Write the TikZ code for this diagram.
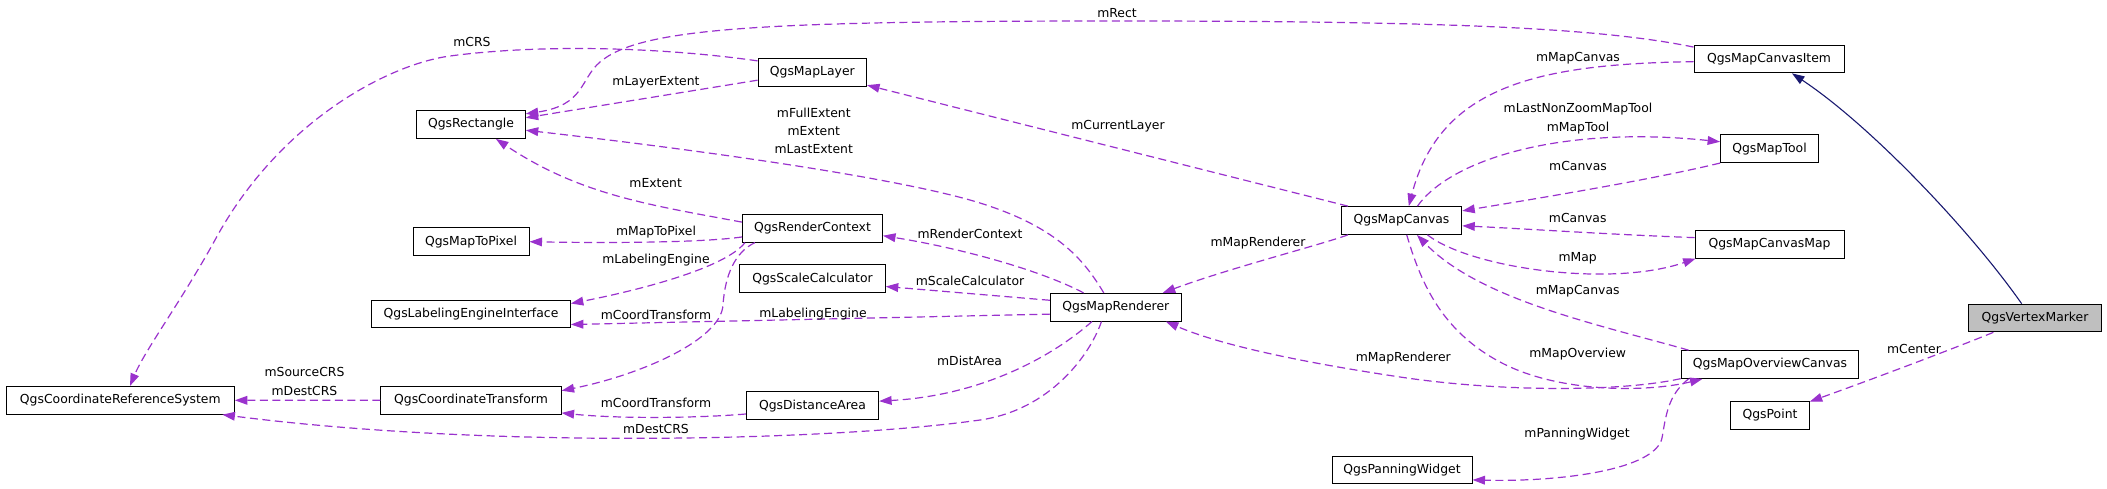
\documentclass[tikz,border=0pt]{standalone}
\usepackage{fontspec}
\setmainfont{DejaVu Sans}
\usetikzlibrary{arrows.meta}
\definecolor{relc}{HTML}{9A32CD}
\definecolor{inhc}{HTML}{191970}
\definecolor{grayfill}{HTML}{BFBFBF}
\begin{document}
\begin{tikzpicture}[x=1pt,y=-1pt,font=\fontsize{12.4}{14.9}\selectfont,
  cls/.style={draw=black,line width=1pt,minimum height=27.7pt,inner sep=0pt,anchor=center},
  relline/.style={draw=relc,line width=1.2pt,dash pattern=on 8pt off 4.5pt,-{Triangle[length=12.5pt,width=8.7pt]}},
  inhline/.style={draw=inhc,line width=1.1pt,-{Triangle[length=12.5pt,width=8.7pt]}},
  lbl/.style={anchor=base,inner sep=0pt}]
\useasboundingbox (0,0) rectangle (2107,488);
% classes
\node[cls,minimum width=108.5pt] (rect) at (471,124.5) {QgsRectangle};
\node[cls,minimum width=116pt] (mtp) at (471,241.7) {QgsMapToPixel};
\node[cls,minimum width=198.7pt] (lei) at (471,314) {QgsLabelingEngineInterface};
\node[cls,minimum width=228pt] (crs) at (120.3,400.3) {QgsCoordinateReferenceSystem};
\node[cls,minimum width=180.2pt] (ct) at (471,400.2) {QgsCoordinateTransform};
\node[cls,minimum width=108.5pt] (ml) at (812.3,72.5) {QgsMapLayer};
\node[cls,minimum width=140pt] (rc) at (812.5,228.3) {QgsRenderContext};
\node[cls,minimum width=145.5pt] (sc) at (812.5,278.8) {QgsScaleCalculator};
\node[cls,minimum width=132.2pt] (da) at (812.5,405.8) {QgsDistanceArea};
\node[cls,minimum width=131pt] (mr) at (1115.8,307.2) {QgsMapRenderer};
\node[cls,minimum width=120.5pt] (mc) at (1401.5,220.5) {QgsMapCanvas};
\node[cls,minimum width=140pt] (pw) at (1402,470) {QgsPanningWidget};
\node[cls,minimum width=150pt] (mci) at (1769,59) {QgsMapCanvasItem};
\node[cls,minimum width=97.8pt] (mt) at (1769.5,148.7) {QgsMapTool};
\node[cls,minimum width=149pt] (mcm) at (1769.5,244.2) {QgsMapCanvasMap};
\node[cls,minimum width=177.6pt] (moc) at (1770,364.5) {QgsMapOverviewCanvas};
\node[cls,minimum width=78.5pt] (pt) at (1770,415.3) {QgsPoint};
\node[cls,minimum width=132.5pt,fill=grayfill] (vm) at (2035,318) {QgsVertexMarker};
% relations
\draw[relline] (ml.168) .. controls (660,47) and (540,44) .. (450,56) .. controls (390,64) and (280,120) .. (215,240) .. controls (182,300) and (145,350) .. (crs.56.7);
\draw[relline] (mci.171) .. controls (1600,28) and (1450,21) .. (1117,21) .. controls (760,21) and (640,28) .. (600,62) .. controls (580,79) and (585,105) .. (rect.11);
\draw[relline] (ml.188) -- (rect.7);
\draw[relline] (mr.130) .. controls (1085,262) and (1060,228) .. (980,203) .. controls (900,178) and (700,150) .. (rect.354);
\draw[relline] (rc.175) .. controls (650,205) and (580,195) .. (rect.330.5);
\draw[relline] (rc.187) .. controls (700,243) and (600,243) .. (mtp.east);
\draw[relline] (rc.192.5) .. controls (725,268) and (640,290) .. (lei.6.6);
\draw[relline] (rc.194) .. controls (735,252) and (725,275) .. (723,305) .. controls (721,340) and (640,375) .. (ct.6);
\draw[relline] (ct.west) -- (crs.east);
\draw[relline] (da.187) .. controls (700,418) and (620,419) .. (ct.352.5);
\draw[relline] (mr.225) .. controls (1090,355) and (1050,410) .. (980,420) .. controls (840,440) and (500,450) .. (crs.352);
\draw[relline] (mr.211) .. controls (1060,350) and (990,395) .. (da.4);
\draw[relline] (mr.174) -- (sc.354.6);
\draw[relline] (mr.156.5) .. controls (1040,270) and (960,248) .. (rc.354.5);
\draw[relline] (mr.186) -- (lei.354);
\draw[relline] (mc.165.7) -- (ml.347);
\draw[relline] (mc.195) .. controls (1320,245) and (1230,268) .. (mr.17.5);
\draw[relline] (moc.189.4) .. controls (1620,392) and (1500,392) .. (1400,377) .. controls (1300,362) and (1220,345) .. (mr.344);
\draw[relline] (moc.170.4) .. controls (1600,325) and (1480,300) .. (mc.317.7);
\draw[relline] (mcm.175.5) .. controls (1600,234) and (1530,229) .. (mc.355.7);
\draw[relline] (mc.331.2) .. controls (1470,268) and (1610,288) .. (mcm.191.6);
\draw[relline] (mt.south west) .. controls (1650,180) and (1540,198) .. (mc.9.9);
\draw[relline] (mc.42.3) .. controls (1450,160) and (1560,125) .. (mt.172);
\draw[relline] (mci.182.5) .. controls (1540,64) and (1440,85) .. (mc.63.8);
\draw[inhline] (vm.133) .. controls (1970,230) and (1870,125) .. (mci.328.7);
\draw[relline] (vm.199) .. controls (1950,350) and (1870,380) .. (pt.19);
\draw[relline] (moc.190) .. controls (1668,395) and (1666,415) .. (1662,438) .. controls (1655,470) and (1560,482) .. (pw.352);
\draw[relline] (mc.290.6) .. controls (1420,280) and (1440,330) .. (1500,362) .. controls (1560,394) and (1650,392) .. (moc.192.6);
% labels
\node[lbl] (l1) at (1117,17.2) {mRect};
\node[lbl] (l2) at (472,46.5) {mCRS};
\node[lbl] (l3) at (656,85.2) {mLayerExtent};
\node[lbl] (l4a) at (813.8,117.8) {mFullExtent};
\node[lbl] (l4b) at (813.8,135.2) {mExtent};
\node[lbl] (l4c) at (813.8,153.2) {mLastExtent};
\node[lbl] (l5) at (655.7,187.2) {mExtent};
\node[lbl] (l6) at (656,235.2) {mMapToPixel};
\node[lbl] (l7) at (656,263.5) {mLabelingEngine};
\node[lbl] (l8) at (656,319.2) {mCoordTransform};
\node[lbl] (l9) at (656,407.2) {mCoordTransform};
\node[lbl] (l10) at (656,433.8) {mDestCRS};
\node[lbl] (l11a) at (304.5,376.8) {mSourceCRS};
\node[lbl] (l11b) at (304.5,395.2) {mDestCRS};
\node[lbl] (l12) at (1118,129.5) {mCurrentLayer};
\node[lbl] (l13) at (970,238.5) {mRenderContext};
\node[lbl] (l14) at (1258,246.8) {mMapRenderer};
\node[lbl] (l15) at (970,285.2) {mScaleCalculator};
\node[lbl] (l16) at (813,317.2) {mLabelingEngine};
\node[lbl] (l17) at (969.6,365.2) {mDistArea};
\node[lbl] (l18) at (1403.3,361.2) {mMapRenderer};
\node[lbl] (l19) at (1578,61.8) {mMapCanvas};
\node[lbl] (l20a) at (1578,112.8) {mLastNonZoomMapTool};
\node[lbl] (l20b) at (1578,131.2) {mMapTool};
\node[lbl] (l21) at (1578,170.5) {mCanvas};
\node[lbl] (l22) at (1577.7,222.8) {mCanvas};
\node[lbl] (l23) at (1577.7,261.8) {mMap};
\node[lbl] (l24) at (1577.7,294.5) {mMapCanvas};
\node[lbl] (l25) at (1577.7,357.8) {mMapOverview};
\node[lbl] (l26) at (1914,353.8) {mCenter};
\node[lbl] (l27) at (1577,437.8) {mPanningWidget};
\end{tikzpicture}
\end{document}
